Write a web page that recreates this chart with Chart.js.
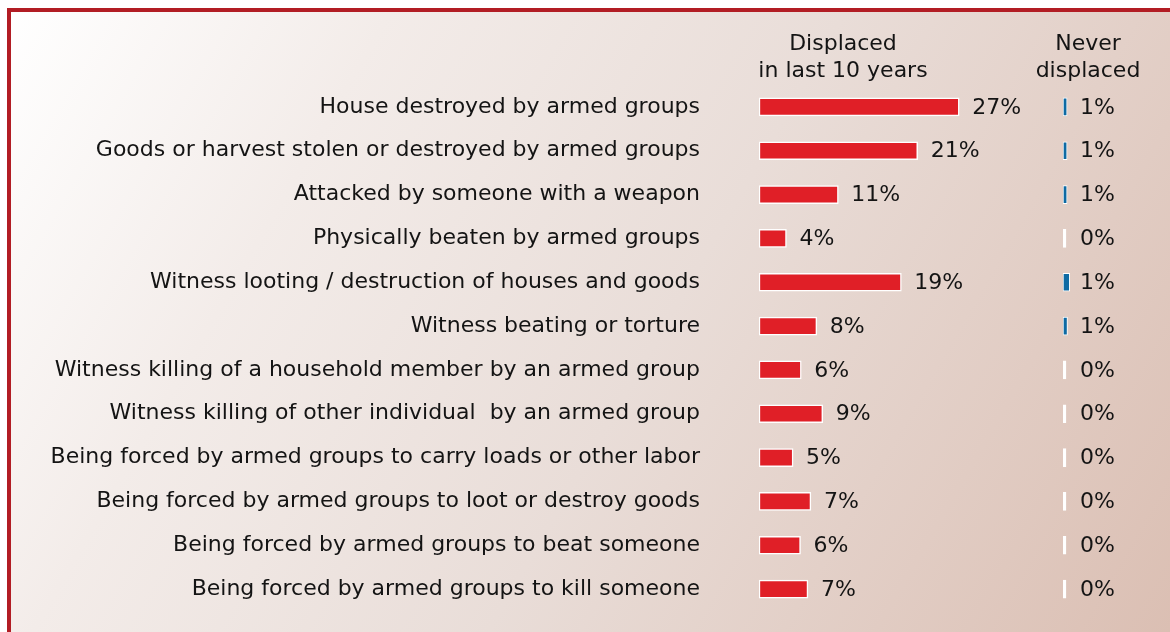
<!DOCTYPE html>
<html>
<head>
<meta charset="utf-8">
<script src="https://cdn.jsdelivr.net/npm/chart.js@4"></script>
<style>
  html, body { margin: 0; padding: 0; width: 1170px; height: 632px; overflow: hidden; background: #fff; }
  #frame { position: absolute; left: 7px; top: 8px; width: 1159px; height: 620px;
    border-left: 4px solid #b21d24; border-top: 4px solid #b21d24;
    background: linear-gradient(120deg, #ffffff 0%, #f3ece9 25%, #e9ddd8 55%, #dbbfb3 100%); }
  #c { position: absolute; left: 0; top: 0; }
</style>
</head>
<body>
<div id="frame"></div>
<canvas id="c" width="1170" height="632"></canvas>
<script>
const categories = [
  'House destroyed by armed groups',
  'Goods or harvest stolen or destroyed by armed groups',
  'Attacked by someone with a weapon',
  'Physically beaten by armed groups',
  'Witness looting / destruction of houses and goods',
  'Witness beating or torture',
  'Witness killing of a household member by an armed group',
  'Witness killing of other individual  by an armed group',
  'Being forced by armed groups to carry loads or other labor',
  'Being forced by armed groups to loot or destroy goods',
  'Being forced by armed groups to beat someone',
  'Being forced by armed groups to kill someone'
];
const displaced = [27.0, 21.4, 10.7, 3.7, 19.2, 7.8, 5.7, 8.6, 4.6, 7.0, 5.6, 6.6];
const neverDisplaced = [0.55, 0.55, 0.55, 0, 0.9, 0.6, 0, 0, 0, 0, 0, 0];
const headDisplaced = ['Displaced', 'in last 10 years'];
const headNever = ['Never', 'displaced'];

const FONT = '"DejaVu Sans", Verdana, sans-serif';
const TEXT = '#141414';

const labelsPlugin = {
  id: 'valueLabels',
  afterDatasetsDraw(chart) {
    const ctx = chart.ctx;
    ctx.save();
    ctx.font = '22px ' + FONT;
    ctx.fillStyle = TEXT;
    ctx.textBaseline = 'middle';
    ctx.textAlign = 'left';
    chart.data.datasets.forEach((ds, i) => {
      chart.getDatasetMeta(i).data.forEach((el, j) => {
        // never-displaced labels line up in one column
        const x = i === 0 ? el.x + 13 : el.base + 17;
        ctx.fillText(Math.round(ds.data[j]) + '%', x, el.y + 1);
      });
    });
    // column headers
    ctx.textAlign = 'center';
    ctx.textBaseline = 'alphabetic';
    const xs = chart.scales.x, x2 = chart.scales.x2;
    headDisplaced.forEach((t, k) => ctx.fillText(t, xs.left + 84, 50 + k * 27));
    headNever.forEach((t, k) => ctx.fillText(t, x2.left + 25, 50 + k * 27));
    ctx.restore();
  }
};

new Chart(document.getElementById('c'), {
  type: 'bar',
  data: {
    labels: categories,
    datasets: [
      { label: 'Displaced in last 10 years', data: displaced, xAxisID: 'x', grouped: false,
        backgroundColor: '#e01f27', borderColor: '#ffffff', borderWidth: 1.5,
        barThickness: 18, borderSkipped: false },
      { label: 'Never displaced', data: neverDisplaced, xAxisID: 'x2', grouped: false,
        backgroundColor: neverDisplaced.map(v => v > 0 ? '#0e6aa3' : '#ffffff'),
        borderColor: '#ffffff', borderWidth: 1, minBarLength: 3,
        barThickness: 18, borderSkipped: false }
    ]
  },
  options: {
    indexAxis: 'y',
    responsive: false,
    devicePixelRatio: 1,
    animation: false,
    layout: { padding: { top: 85, bottom: 21, left: 0, right: 10 } },
    plugins: { legend: { display: false }, tooltip: { enabled: false } },
    scales: {
      y: {
        grid: { display: false, drawTicks: false },
        border: { display: false },
        ticks: { color: TEXT, font: { family: FONT, size: 22 }, padding: 59, autoSkip: false },
        afterFit(scale) {
          scale.width = 759;
          scale.paddingTop = 0;
          scale.paddingBottom = 0;
        }
      },
      x: {
        display: false, min: 0, max: 41, stack: 'cols', stackWeight: 304, position: 'bottom'
      },
      x2: {
        display: false, min: 0, max: 13, stack: 'cols', stackWeight: 97, position: 'bottom'
      }
    }
  },
  plugins: [labelsPlugin]
});
</script>
</body>
</html>
